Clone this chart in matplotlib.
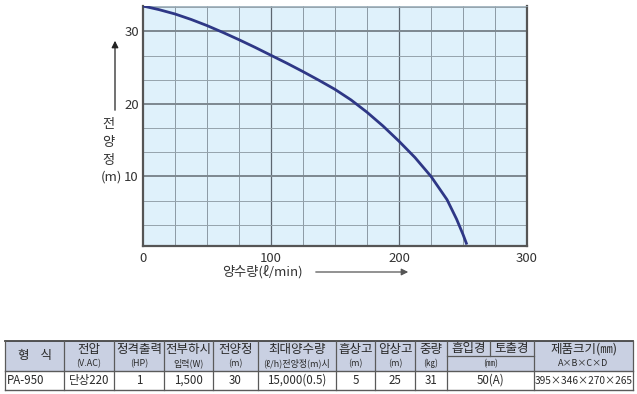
import matplotlib
matplotlib.use("Agg")
import matplotlib.pyplot as plt
from matplotlib.patches import Rectangle

plt.rcParams['font.family'] = ['Noto Sans CJK KR', 'DejaVu Sans']

# pump curve
flow = [0, 12.5, 25, 37.5, 50, 62.5, 75, 87.5, 100, 112.5, 125, 137.5,
        150, 162.5, 175, 187.5, 200, 212.5, 225, 237.5, 245, 250, 253]
head = [33.5, 33.0, 32.4, 31.65, 30.8, 29.85, 28.85, 27.8, 26.7, 25.6,
        24.45, 23.25, 22.0, 20.55, 18.85, 16.95, 14.85, 12.6, 10.0, 6.8,
        4.1, 2.0, 0.6]

x_ticks = [0, 100, 200, 300]
y_ticks = [10, 20, 30]

# spec table
headers_top = ["형    식", "전압", "정격출력", "전부하시", "전양정", "최대양수량",
               "흡상고", "압상고", "중량", "흡입경", "토출경", "제품크기(㎜)"]
headers_sub = ["", "(V.AC)", "(HP)", "입력(W)", "(m)", "(ℓ/h)전양정(m)시",
               "(m)", "(m)", "(㎏)", "(㎜)", "", "A×B×C×D"]
row_values = ["PA-950", "단상220", "1", "1,500", "30", "15,000(0.5)",
              "5", "25", "31", "50(A)", "", "395×346×270×265"]

W, H = 637, 394
fig = plt.figure(figsize=(W / 100, H / 100), dpi=100)

# overlay in pixel coordinates for table and axis captions
ov = fig.add_axes([0, 0, 1, 1])
ov.set_xlim(0, W)
ov.set_ylim(H, 0)
ov.axis("off")

# ---- chart -------------------------------------------------------------
ax = fig.add_axes([143 / W, 1 - 246 / H, 384 / W, 240 / H])
ax.set_facecolor("#dff1fb")
ax.plot(flow, head, color="#2e3786", lw=2.0, zorder=3,
        solid_joinstyle="round", solid_capstyle="butt")
ax.set_xlim(0, 300)
ax.set_ylim(0.4, 33.5)

for xv in range(25, 300, 25):
    major = xv % 100 == 0
    ax.axvline(xv, color="#5d6670" if major else "#7f8c96",
               lw=0.9 if major else 0.6, zorder=1)
for i in range(1, 11):
    yv = i * 10 / 3
    major = i % 3 == 0
    ax.axhline(yv, color="#7d8890" if major else "#95a3ac",
               lw=1.4 if major else 0.7, zorder=1)

ax.set_xticks(x_ticks)
ax.set_yticks(y_ticks)
ax.tick_params(length=0, labelsize=9.5, colors="#333333")
ax.tick_params(axis="x", pad=4)
ax.tick_params(axis="y", pad=3)
for s in ["left", "bottom", "right"]:
    ax.spines[s].set_color("#555555")
    ax.spines[s].set_linewidth(1.6)
ax.spines["top"].set_color("#9fb0ba")
ax.spines["top"].set_linewidth(0.6)

# y caption
ov.annotate("", xy=(115, 38), xytext=(115, 113),
            arrowprops=dict(arrowstyle="-|>", color="#222222", lw=0.9,
                            mutation_scale=10))
for ch, yy in zip(["전", "양", "정"], [124, 142, 160]):
    ov.text(108, yy, ch, fontsize=9.5, color="#333333",
            ha="center", va="center")
ov.text(111, 177, "(m)", fontsize=9.5, color="#333333",
        ha="center", va="center")

# x caption
ov.text(262, 272, "양수량(ℓ/min)", fontsize=9.5, color="#333333",
        ha="center", va="center")
ov.annotate("", xy=(411, 272), xytext=(313, 272),
            arrowprops=dict(arrowstyle="-|>", color="#555555", lw=0.9,
                            mutation_scale=10))

# ---- table -------------------------------------------------------------
cols = [5, 64, 114, 164, 213, 258, 336, 375, 415, 447, 490, 534, 633]
y_top, y_mid, y_hdr, y_bot = 341, 356, 371, 390
line_c = "#5a5a5a"

ov.add_patch(Rectangle((cols[0], y_top), cols[-1] - cols[0], y_hdr - y_top,
                       facecolor="#c9d0e2", edgecolor="none"))
ov.plot([cols[0], cols[-1]], [y_top, y_top], color="#444444", lw=1.3)
ov.plot([cols[0], cols[-1]], [y_hdr, y_hdr], color=line_c, lw=1.0)
ov.plot([cols[0], cols[-1]], [y_bot, y_bot], color=line_c, lw=1.0)
for i, cx in enumerate(cols):
    if i == 10:
        ov.plot([cx, cx], [y_top, y_mid], color=line_c, lw=0.9)
    else:
        ov.plot([cx, cx], [y_top, y_bot], color=line_c, lw=0.9)
ov.plot([cols[9], cols[11]], [y_mid, y_mid], color=line_c, lw=0.9)

hdr_c = "#2a2a2a"
for i in range(len(cols) - 1):
    xc = (cols[i] + cols[i + 1]) / 2
    if i == 0:
        ov.text(xc, (y_top + y_hdr) / 2, headers_top[i], fontsize=9,
                color=hdr_c, ha="center", va="center")
    elif i in (9, 10):
        ov.text(xc, (y_top + y_mid) / 2, headers_top[i], fontsize=9,
                color=hdr_c, ha="center", va="center")
    else:
        ov.text(xc, 349, headers_top[i], fontsize=9,
                color=hdr_c, ha="center", va="center")
        ov.text(xc, 363.5, headers_sub[i], fontsize=6.5,
                color=hdr_c, ha="center", va="center")
ov.text((cols[9] + cols[11]) / 2, 363.5, headers_sub[9], fontsize=6.5,
        color=hdr_c, ha="center", va="center")

yr = (y_hdr + y_bot) / 2
for i in range(len(cols) - 1):
    val = row_values[i]
    if not val:
        continue
    if i == 0:
        ov.text(cols[0] + 2, yr, val, fontsize=8.3, color=hdr_c,
                ha="left", va="center")
    elif i == 9:
        ov.text((cols[9] + cols[11]) / 2, yr, val, fontsize=8.3, color=hdr_c,
                ha="center", va="center")
    else:
        xc = (cols[i] + cols[i + 1]) / 2
        ov.text(xc, yr, val, fontsize=8.3 if i != 11 else 7.3, color=hdr_c,
                ha="center", va="center")

fig.savefig("out.png", dpi=100, facecolor="white")
